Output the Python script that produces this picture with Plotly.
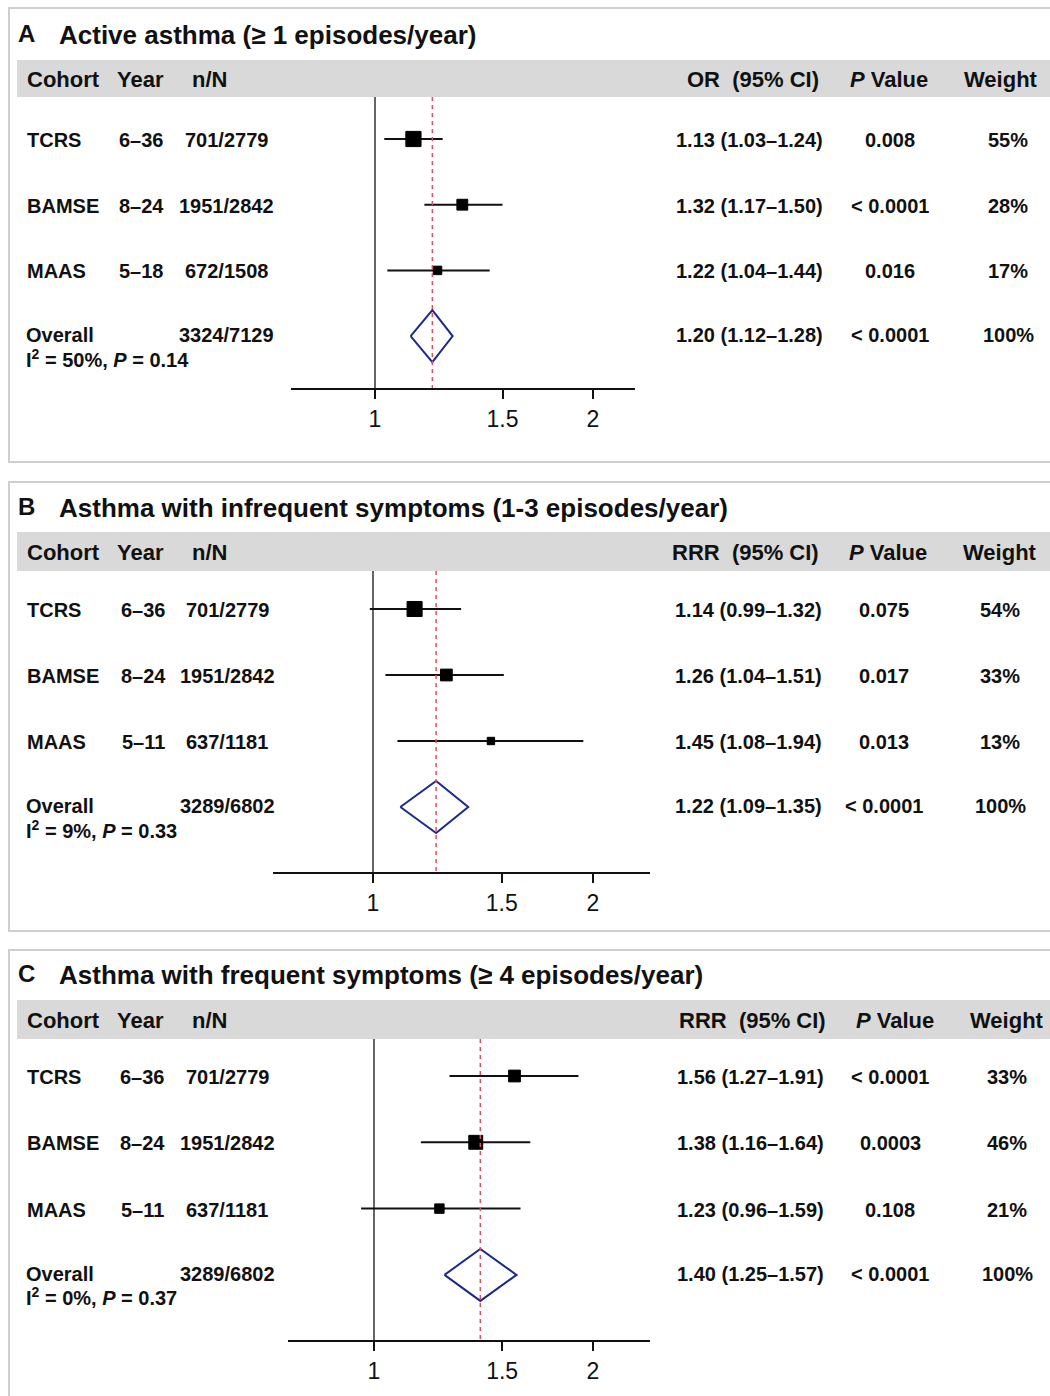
import math
import plotly.graph_objects as go

W, H = 1050, 1396

# ---------------- DATA ----------------
cohorts = ["TCRS", "BAMSE", "MAAS"]

titles = ["Active asthma (≥ 1 episodes/year)",
          "Asthma with infrequent symptoms (1-3 episodes/year)",
          "Asthma with frequent symptoms (≥ 4 episodes/year)"]
letters = ["A", "B", "C"]
measure = ["OR", "RRR", "RRR"]

years_A = ["6–36", "8–24", "5–18"]
years_B = ["6–36", "8–24", "5–11"]
years_C = ["6–36", "8–24", "5–11"]

nN_A = ["701/2779", "1951/2842", "672/1508"]
nN_B = ["701/2779", "1951/2842", "637/1181"]
nN_C = ["701/2779", "1951/2842", "637/1181"]
overall_nN = ["3324/7129", "3289/6802", "3289/6802"]

est_A = [1.13, 1.32, 1.22]
lo_A = [1.03, 1.17, 1.04]
hi_A = [1.24, 1.50, 1.44]
est_B = [1.14, 1.26, 1.45]
lo_B = [0.99, 1.04, 1.08]
hi_B = [1.32, 1.51, 1.94]
est_C = [1.56, 1.38, 1.23]
lo_C = [1.27, 1.16, 0.96]
hi_C = [1.91, 1.64, 1.59]

overall_est = [1.20, 1.22, 1.40]
overall_lo = [1.12, 1.09, 1.25]
overall_hi = [1.28, 1.35, 1.57]

p_A = ["0.008", "< 0.0001", "0.016"]
p_B = ["0.075", "0.017", "0.013"]
p_C = ["< 0.0001", "0.0003", "0.108"]
overall_p = ["< 0.0001", "< 0.0001", "< 0.0001"]

w_A = [55, 28, 17]
w_B = [54, 33, 13]
w_C = [33, 46, 21]

i2 = [50, 9, 0]
het_p = ["0.14", "0.33", "0.37"]

tick_vals = [1, 1.5, 2]
tick_text = ["1", "1.5", "2"]

# ---------------- LAYOUT (pixels) ----------------
panels = [
    dict(box=(9, 8, 1052, 462), band=(17, 60, 1052, 97), title_y=35, head_y=79,
         first=139, sp=65.7, axis_y=388, ax_x=(291, 635), one=375, two=593,
         year_c=141, nn_c=226, est_c=749, est_head_r=821, p_c=890, p_head=889,
         w_c=1008, w_head=1001),
    dict(box=(9, 482, 1052, 931), band=(17, 532, 1052, 571), title_y=508, head_y=552,
         first=609, sp=66.0, axis_y=872, ax_x=(273, 650), one=373, two=593,
         year_c=143, nn_c=227, est_c=748, est_head_r=821, p_c=884, p_head=888,
         w_c=1000, w_head=1000),
    dict(box=(9, 950, 1052, 1402), band=(17, 1000, 1052, 1039), title_y=975, head_y=1020,
         first=1076, sp=66.3, axis_y=1340, ax_x=(288, 650), one=374, two=593,
         year_c=142, nn_c=227, est_c=750, est_head_r=828, p_c=890, p_head=895,
         w_c=1007, w_head=1007),
]

data_sets = [
    (years_A, nN_A, est_A, lo_A, hi_A, p_A, w_A),
    (years_B, nN_B, est_B, lo_B, hi_B, p_B, w_B),
    (years_C, nN_C, est_C, lo_C, hi_C, p_C, w_C),
]

FONT = "Liberation Sans, Arial, sans-serif"
NAVY = "#1c2a8c"
RED = "#e05060"


def px(x):
    return x / W


def py(y):
    return 1 - y / H


fig = go.Figure()
annotations = []
shapes = []

for k, (pn, ds) in enumerate(zip(panels, data_sets)):
    years, nN, est, lo, hi, pv, wt = ds
    n = "" if k == 0 else str(k + 1)
    xa, ya = "x" + n, "y" + n

    # box + header band
    bx0, by0, bx1, by1 = pn["box"]
    shapes.append(dict(type="rect", xref="paper", yref="paper",
                       x0=px(bx0), x1=px(bx1), y0=py(by1), y1=py(by0),
                       line=dict(color="#cfcfcf", width=2), fillcolor="rgba(0,0,0,0)",
                       layer="below"))
    gx0, gy0, gx1, gy1 = pn["band"]
    shapes.append(dict(type="rect", xref="paper", yref="paper",
                       x0=px(gx0), x1=px(gx1), y0=py(gy1), y1=py(gy0),
                       line=dict(width=0), fillcolor="#d9d9d9", layer="below"))

    # axes
    ppd = (pn["two"] - pn["one"]) / math.log10(2)
    r0 = (pn["ax_x"][0] - pn["one"]) / ppd
    r1 = (pn["ax_x"][1] - pn["one"]) / ppd
    top = gy1
    y_bot = (pn["axis_y"] - pn["first"]) / pn["sp"]
    y_top = (top - pn["first"]) / pn["sp"]

    fig.update_layout(**{
        "xaxis" + n: dict(type="log", domain=[px(pn["ax_x"][0]), px(pn["ax_x"][1])],
                          range=[r0, r1], anchor=ya, showgrid=False, zeroline=False,
                          showline=True, linecolor="#111", linewidth=2,
                          ticks="outside", ticklen=9, tickwidth=1.5, tickcolor="#111",
                          tickvals=tick_vals, ticktext=tick_text,
                          ticklabelstandoff=0,
                          tickfont=dict(family=FONT, size=23, color="#111"),
                          fixedrange=True),
        "yaxis" + n: dict(domain=[py(pn["axis_y"]), py(top)], range=[y_bot, y_top],
                          anchor=xa, visible=False, showgrid=False, zeroline=False,
                          fixedrange=True),
    })

    # reference line at 1
    fig.add_trace(go.Scatter(x=[1, 1], y=[y_top, y_bot], mode="lines",
                             line=dict(color="#333", width=1.5),
                             xaxis=xa, yaxis=ya, hoverinfo="skip", showlegend=False))

    rows = list(range(len(est)))
    # CI lines
    for i in rows:
        fig.add_trace(go.Scatter(x=[lo[i], hi[i]], y=[i, i], mode="lines",
                                 line=dict(color="#111", width=2),
                                 xaxis=xa, yaxis=ya, hoverinfo="skip", showlegend=False))
    # squares sized by weight
    fig.add_trace(go.Scatter(x=est, y=rows, mode="markers",
                             marker=dict(symbol="square", color="#000", opacity=1,
                                         size=[2.05 * math.sqrt(w) for w in wt],
                                         line=dict(width=1, color="#000")),
                             xaxis=xa, yaxis=ya, hoverinfo="skip", showlegend=False))
    # overall diamond
    orow = len(est)
    hh = 26 / pn["sp"]
    fig.add_trace(go.Scatter(
        x=[overall_lo[k], overall_est[k], overall_hi[k], overall_est[k], overall_lo[k]],
        y=[orow, orow - hh, orow, orow + hh, orow], mode="lines",
        line=dict(color=NAVY, width=2), xaxis=xa, yaxis=ya,
        hoverinfo="skip", showlegend=False))
    # red dashed line at overall estimate
    fig.add_trace(go.Scatter(x=[overall_est[k], overall_est[k]], y=[y_top, y_bot],
                             mode="lines", line=dict(color=RED, width=1.5, dash="4px,4px"),
                             xaxis=xa, yaxis=ya, hoverinfo="skip", showlegend=False))

    # ---- texts ----
    def txt(s, x, y, xanchor="left", size=20, yref="paper", yshift=0, weight="bold"):
        annotations.append(dict(text=s, x=x, y=y, xref="paper", yref=yref,
                                xanchor=xanchor, yanchor="middle", showarrow=False,
                                yshift=yshift,
                                font=dict(family=FONT, size=size, color="#111",
                                          weight=weight)))

    txt(letters[k], px(16), py(pn["title_y"] - 2), size=24)
    txt(titles[k], px(57), py(pn["title_y"]), size=26)

    hy = py(pn["head_y"])
    txt("Cohort", px(25), hy, size=22)
    txt("Year", px(115), hy, size=22)
    txt("n/N", px(190), hy, size=22)
    txt(measure[k] + "  (95% CI)", px(pn["est_head_r"]), hy, xanchor="right", size=22)
    txt("<i>P</i> Value", px(pn["p_head"]), hy, xanchor="center", size=22)
    txt("Weight", px(pn["w_head"]), hy, xanchor="center", size=22)

    for i in rows:
        txt(cohorts[i], px(25), i, yref=ya, yshift=-1)
        txt(years[i], px(pn["year_c"]), i, xanchor="center", yref=ya, yshift=-1)
        txt(nN[i], px(pn["nn_c"]), i, xanchor="center", yref=ya, yshift=-1)
        txt(f"{est[i]:.2f} ({lo[i]:.2f}–{hi[i]:.2f})", px(pn["est_c"]), i,
            xanchor="center", yref=ya, yshift=-1)
        txt(pv[i], px(pn["p_c"]), i, xanchor="center", yref=ya, yshift=-1)
        txt(f"{wt[i]}%", px(pn["w_c"]), i, xanchor="center", yref=ya, yshift=-1)

    txt("Overall", px(24), orow, yref=ya, yshift=1)
    txt(overall_nN[k], px(pn["nn_c"]), orow, xanchor="center", yref=ya, yshift=1)
    txt(f"{overall_est[k]:.2f} ({overall_lo[k]:.2f}–{overall_hi[k]:.2f})",
        px(pn["est_c"]), orow, xanchor="center", yref=ya, yshift=1)
    txt(overall_p[k], px(pn["p_c"]), orow, xanchor="center", yref=ya, yshift=1)
    txt("100%", px(pn["w_c"]), orow, xanchor="center", yref=ya, yshift=1)
    txt(f"I<sup>2</sup> = {i2[k]}%, <i>P</i> = {het_p[k]}", px(24), orow,
        yref=ya, yshift=-22)

fig.update_layout(width=W, height=H, margin=dict(l=0, r=0, t=0, b=0),
                  paper_bgcolor="white", plot_bgcolor="rgba(0,0,0,0)",
                  annotations=annotations, shapes=shapes, showlegend=False)

fig.write_html("out.html", config={"displayModeBar": False},
               post_script="document.body.style.margin='0';document.body.style.padding='0';")
